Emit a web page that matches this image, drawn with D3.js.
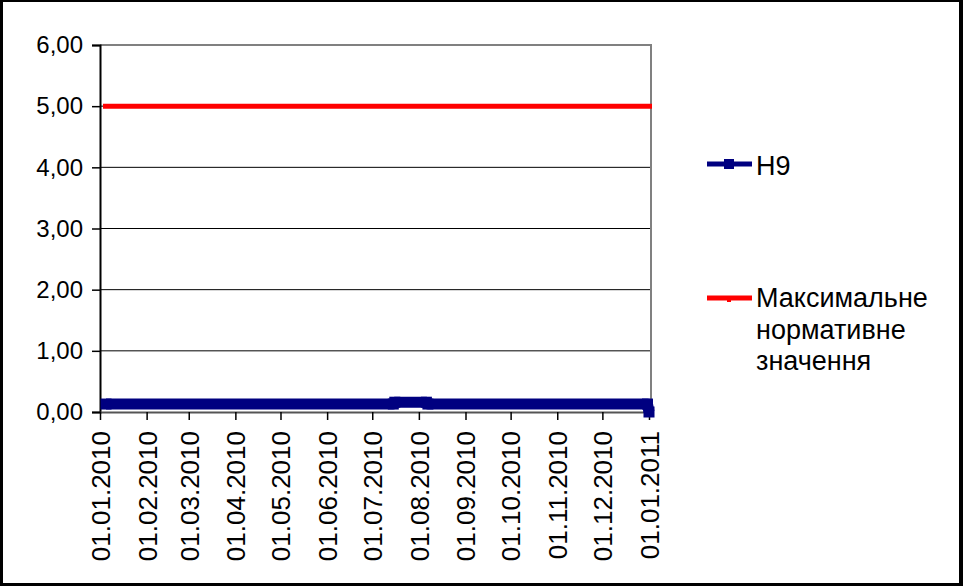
<!DOCTYPE html>
<html>
<head>
<meta charset="utf-8">
<script src="https://cdn.jsdelivr.net/npm/d3@7"></script>
<style>
  body { margin: 0; background: #fff; }
  svg text { font-family: "Liberation Sans", Arial, sans-serif; fill: #000; }
</style>
</head>
<body>
<div id="chart"></div>
<script>
// series: Н9 (daily measurements, flat runs collapsed to their end points)
var h9Dates = ["2010-01-05", "2010-07-15", "2010-07-16", "2010-08-06", "2010-08-07", "2010-12-31", "2011-01-01"];
var h9Values = [0.13, 0.13, 0.16, 0.16, 0.13, 0.13, 0.00];

// series: maximum normative value
var maxDates = ["2010-01-03", "2011-01-03"];
var maxValues = [5, 5];

var yTicks = [0, 1, 2, 3, 4, 5, 6];
var legendNames = ["Н9", ["Максимальне", "нормативне", "значення"]];

var W = 963, H = 586;
var parse = d3.timeParse("%Y-%m-%d");

var svg = d3.select("#chart")
    .append("svg")
    .attr("width", W)
    .attr("height", H);

// outer black frame
svg.append("rect").attr("x", 0).attr("y", 0).attr("width", W).attr("height", H).attr("fill", "#000");
svg.append("rect").attr("x", 3).attr("y", 2).attr("width", W - 7).attr("height", H - 5).attr("fill", "#fff");

var x = d3.scaleTime()
    .domain([parse("2010-01-01"), parse("2011-01-01")])
    .range([100, 649]);
var y = d3.scaleLinear()
    .domain([0, 6])
    .range([412, 45]);

var comma = function (d) { return d3.format(".2f")(d).replace(".", ","); };

// gridlines
svg.append("g")
    .selectAll("line")
    .data(yTicks.filter(function (d) { return d > 0 && d < 6; }))
    .enter().append("line")
    .attr("x1", 100).attr("x2", 651)
    .attr("y1", function (d) { return y(d); })
    .attr("y2", function (d) { return y(d); })
    .attr("stroke", "#000")
    .attr("stroke-width", 1);

// plot area border (top / right)
svg.append("path")
    .attr("d", "M100," + y(6) + "H651V" + y(0))
    .attr("fill", "none")
    .attr("stroke", "#808080")
    .attr("stroke-width", 2);

// y axis
var gy = svg.append("g")
    .attr("transform", "translate(100,0)")
    .call(d3.axisLeft(y).tickValues(yTicks).tickSize(8).tickPadding(9).tickFormat(comma));
gy.select(".domain").attr("stroke", "#000").attr("stroke-width", 2);
gy.selectAll(".tick line").attr("stroke", "#000").attr("stroke-width", 1.5);
gy.selectAll("text").attr("font-size", 24).attr("font-family", "Liberation Sans, Arial, sans-serif").attr("fill", "#000");

// x axis
var gx = svg.append("g")
    .attr("transform", "translate(0," + y(0) + ")")
    .call(d3.axisBottom(x).ticks(d3.timeMonth.every(1)).tickSize(8).tickSizeOuter(0).tickFormat(d3.timeFormat("%d.%m.%Y")));
gx.select(".domain").attr("stroke", "#555").attr("stroke-width", 2);
gx.selectAll(".tick line").attr("stroke", "#000").attr("stroke-width", 1.5);
gx.selectAll("text")
    .attr("font-size", 26)
    .attr("font-family", "Liberation Sans, Arial, sans-serif")
    .attr("fill", "#000")
    .attr("text-anchor", "end")
    .attr("transform", "rotate(-90)")
    .attr("x", -19)
    .attr("y", 0)
    .attr("dy", "0.36em");

// max normative line
var maxData = maxDates.map(function (d, i) { return { date: parse(d), value: maxValues[i] }; });
var line = d3.line()
    .x(function (d) { return x(d.date); })
    .y(function (d) { return y(d.value); });
svg.append("path")
    .datum(maxData)
    .attr("d", line)
    .attr("fill", "none")
    .attr("stroke", "#ff0000")
    .attr("stroke-width", 5);

// Н9 line with square markers
var h9Data = h9Dates.map(function (d, i) { return { date: parse(d), value: h9Values[i] }; });
svg.append("path")
    .datum(h9Data)
    .attr("d", line)
    .attr("fill", "none")
    .attr("stroke", "#000080")
    .attr("stroke-width", 11)
    .attr("stroke-linejoin", "round");
svg.selectAll(".mk")
    .data(h9Data)
    .enter().append("rect")
    .attr("class", "mk")
    .attr("x", function (d) { return x(d.date) - 5.5; })
    .attr("y", function (d) { return y(d.value) - 5.5; })
    .attr("width", 11)
    .attr("height", 11)
    .attr("fill", "#000080");

// legend
var lg = svg.append("g");
lg.append("line").attr("x1", 707).attr("x2", 752).attr("y1", 164).attr("y2", 164)
    .attr("stroke", "#000080").attr("stroke-width", 5);
lg.append("rect").attr("x", 724).attr("y", 159).attr("width", 10).attr("height", 10).attr("fill", "#000080");
lg.append("text").attr("x", 756).attr("y", 175).attr("font-size", 27).text(legendNames[0]);

lg.append("line").attr("x1", 707).attr("x2", 752).attr("y1", 298).attr("y2", 298)
    .attr("stroke", "#ff0000").attr("stroke-width", 5);
lg.append("rect").attr("x", 727).attr("y", 298).attr("width", 4).attr("height", 4).attr("fill", "#ff0000");
lg.append("text").attr("x", 756).attr("y", 307).attr("font-size", 27)
    .selectAll("tspan")
    .data(legendNames[1])
    .enter().append("tspan")
    .attr("x", 756)
    .attr("dy", function (d, i) { return i === 0 ? 0 : 31.7; })
    .text(function (d) { return d; });
</script>
</body>
</html>
